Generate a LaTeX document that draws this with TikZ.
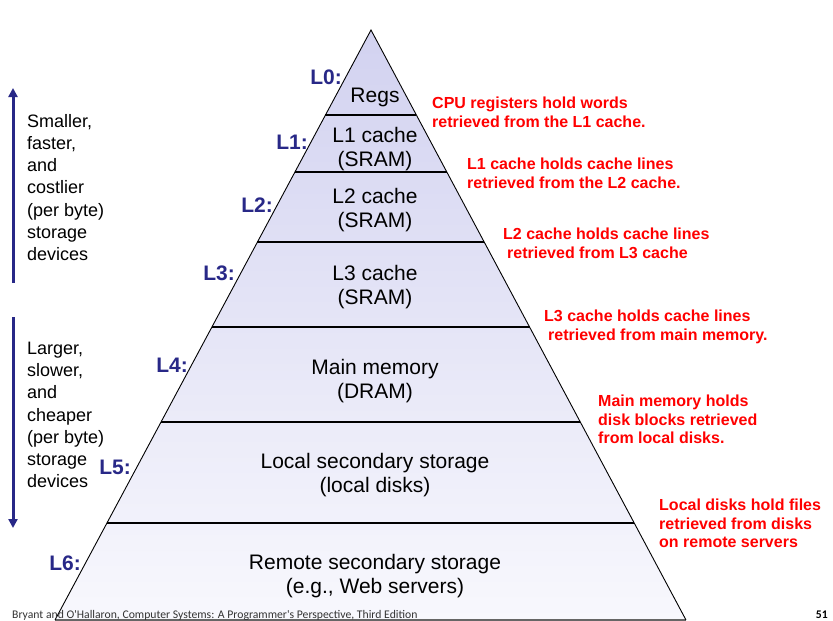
\documentclass[tikz,border=0pt]{standalone}
\usepackage{fontspec}
\setmainfont{Liberation Sans}
\newfontfamily\footfont{Carlito}
\usetikzlibrary{arrows.meta, positioning, calc}
\definecolor{levelblue}{RGB}{40,40,135}
\definecolor{notered}{RGB}{255,0,0}
\definecolor{pyrtop}{RGB}{210,210,240}
\definecolor{pyrbot}{RGB}{248,248,253}
\tikzstyle{layer} = [align=center, font=\fontsize{21}{24}\selectfont, inner sep=0pt]
\tikzstyle{level} = [anchor=east, text=levelblue, font=\fontsize{21}{22}\selectfont\bfseries, inner sep=0pt]
\tikzstyle{note}  = [anchor=north west, align=left, text=notered,
                     font=\fontsize{16}{18.5}\selectfont\bfseries, inner sep=0pt]
\tikzstyle{side}  = [anchor=north west, align=left, font=\fontsize{18}{22.2}\selectfont, inner sep=0pt]
\tikzstyle{arrow} = [line width=3pt, levelblue, -{Triangle[length=9pt,width=9pt]}]

\begin{document}
\begin{tikzpicture}[x=1pt, y=-1pt]

  \useasboundingbox (0,0) rectangle (833,621);

  % Pyramid outline
  \coordinate (apex)  at (371,30);
  \coordinate (baseL) at (55,620);
  \coordinate (baseR) at (686,620);
  \shade[top color=pyrtop, bottom color=pyrbot] (apex) -- (baseL) -- (baseR) -- cycle;
  \draw[black!60, line width=1.2pt] (baseL) -- (baseR);
  \draw[line width=0.9pt] (baseL) -- (apex) -- (baseR);

  % Level boundaries
  \foreach \t in {0.1441, 0.2407, 0.3593, 0.5034, 0.6644, 0.8356}
    \draw[line width=1.2pt] ($(apex)!\t!(baseL)$) -- ($(apex)!\t!(baseR)$);

  % Storage levels
  \node (regs)       [layer] at (375,97)    {Regs};
  \node (lone)       [layer] at (375,149)   {L1 cache\\(SRAM)};
  \node (ltwo)       [layer] at (375,210.5) {L2 cache\\(SRAM)};
  \node (lthree)     [layer] at (375,287)   {L3 cache\\(SRAM)};
  \node (mainmem)    [layer] at (375,381.5) {Main memory\\(DRAM)};
  \node (localdisk)  [layer] at (375,475.5) {Local secondary storage\\(local disks)};
  \node (remotedisk) [layer] at (375,576)   {Remote secondary storage\\(e.g., Web servers)};

  % Level labels
  \node (lab0) [level] at (342,77)  {L0:};
  \node (lab1) [level] at (308,142) {L1:};
  \node (lab2) [level] at (273,205) {L2:};
  \node (lab3) [level] at (235,273) {L3:};
  \node (lab4) [level] at (188,365) {L4:};
  \node (lab5) [level] at (131,467) {L5:};
  \node (lab6) [level] at (81,563)  {L6:};

  % Notes on the right
  \node (note0) [note] at (432,97)  {CPU registers hold words\\retrieved from the L1 cache.};
  \node (note1) [note] at (467,158) {L1 cache holds cache lines\\retrieved from the L2 cache.};
  \node (note2) [note] at (503,228) {L2 cache holds cache lines\\\hspace{4pt}retrieved from L3 cache};
  \node (note3) [note] at (544,310) {L3 cache holds cache lines\\\hspace{4pt}retrieved from main memory.};
  \node (note4) [note] at (598,395) {Main memory holds\\disk blocks retrieved\\from local disks.};
  \node (note5) [note] at (659,499) {Local disks hold files\\retrieved from disks\\on remote servers};

  % Left side trends
  \node (smaller) [side] at (27,114) {Smaller,\\faster,\\and\\costlier\\(per byte)\\storage\\devices};
  \node (larger)  [side] at (27,342) {Larger,\\slower,\\and\\cheaper\\(per byte)\\storage\\devices};
  \coordinate (upfrom)   at (13,283);
  \coordinate (upto)     at (13,88);
  \coordinate (downfrom) at (13,317);
  \coordinate (downto)   at (13,528);
  \draw[arrow] (upfrom) -- (upto);
  \draw[arrow] (downfrom) -- (downto);

  % Footer
  \node (credit) [anchor=base west, inner sep=0pt, text=black!80, font=\footfont\fontsize{11.7}{13}\selectfont]
        at (12,618) {Bryant and O'Hallaron, Computer Systems: A Programmer's Perspective, Third Edition};
  \node (page) [anchor=base east, inner sep=0pt, font=\footfont\fontsize{11.7}{13}\selectfont\bfseries]
        at (828,618) {51};

\end{tikzpicture}
\end{document}
